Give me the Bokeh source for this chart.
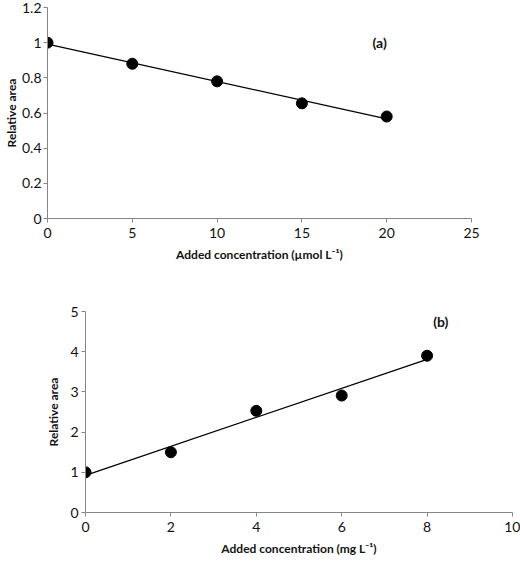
import numpy as np
from bokeh.plotting import figure
from bokeh.layouts import column, row
from bokeh.models import Range1d, FixedTicker, CustomJSTickFormatter
from bokeh.core.properties import value
from bokeh.embed import file_html
from bokeh.resources import INLINE

# ---- data ----
xa = [0, 5, 10, 15, 20]
ya = [1.0, 0.88, 0.78, 0.655, 0.58]
xb = [0, 2, 4, 6, 8]
yb = [1.0, 1.5, 2.53, 2.91, 3.90]

xa_ticks = [0, 5, 10, 15, 20, 25]
ya_ticks = [0, 0.2, 0.4, 0.6, 0.8, 1.0, 1.2]
xb_ticks = [0, 2, 4, 6, 8, 10]
yb_ticks = [0, 1, 2, 3, 4, 5]

label_a = "(a)"
label_b = "(b)"
xlabel_a = "Added concentration (µmol L⁻¹)"
xlabel_b = "Added concentration (mg L⁻¹)"
ylabel = "Relative area"

FONT = "Lato"
AXIS_COL = "#868686"
TXT_COL = "#111111"

fmt = CustomJSTickFormatter(code="return Number(tick.toFixed(2)).toString();")


def make(xs, ys, xr, yr, xt, yt, xlabel, tag, tag_xy, w, h, borders,
         ylab_standoff, ytick_standoff):
    p = figure(width=w, height=h, output_backend="svg", toolbar_location=None,
               x_range=Range1d(*xr), y_range=Range1d(*yr),
               min_border_left=borders[0], min_border_right=borders[1],
               min_border_top=borders[2], min_border_bottom=borders[3])
    p.outline_line_color = None
    p.xgrid.visible = False
    p.ygrid.visible = False
    p.xaxis.ticker = FixedTicker(ticks=xt)
    p.yaxis.ticker = FixedTicker(ticks=yt)
    p.xaxis.formatter = fmt
    p.yaxis.formatter = fmt
    for ax in (p.xaxis[0], p.yaxis[0]):
        ax.axis_line_color = AXIS_COL
        ax.major_tick_line_color = AXIS_COL
        ax.major_tick_in = 0
        ax.major_tick_out = 4
        ax.minor_tick_line_color = None
        ax.major_label_text_font = FONT
        ax.major_label_text_font_size = "14px"
        ax.major_label_text_color = TXT_COL
        ax.axis_label_text_font = FONT
        ax.axis_label_text_font_size = "12px"
        ax.axis_label_text_font_style = "bold"
        ax.axis_label_text_color = TXT_COL
    p.xaxis.major_label_standoff = 5
    p.xaxis.axis_label = xlabel
    p.yaxis.axis_label = ylabel
    p.xaxis.axis_label_standoff = 6
    p.yaxis.major_label_standoff = ytick_standoff
    p.yaxis.axis_label_standoff = ylab_standoff

    k, b = np.polyfit(xs, ys, 1)
    lx = [min(xs), max(xs)]
    ly = [k * v + b for v in lx]
    p.line(lx, ly, line_color="black", line_width=1.3)
    p.scatter(xs, ys, size=11, fill_color="black", line_color="black")
    p.text(x=[tag_xy[0]], y=[tag_xy[1]], text=[tag], text_font=value(FONT),
           text_font_style="bold", text_font_size="14px", text_align="center",
           text_baseline="middle", text_color=TXT_COL)
    return p


p1 = make(xa, ya, (0, 25), (0, 1.2), xa_ticks, ya_ticks, xlabel_a, label_a, (19.58, 1.0),
          520, 280, (47, 49, 7, 62), 0, 2)
p2 = make(xb, yb, (0, 10), (0, 5), xb_ticks, yb_ticks, xlabel_b, label_b, (8.32, 4.75),
          520, 278, (85, 8, 31, 43), 6, 3)

layout = column(row(p1), row(p2))
open("out.html", "w").write(file_html(layout, INLINE))
